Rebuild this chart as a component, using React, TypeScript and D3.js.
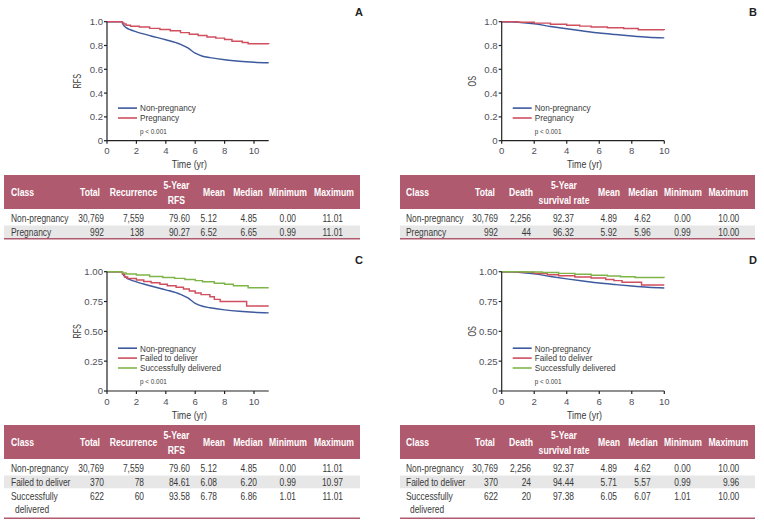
import React from "react";
import * as d3 from "d3";

const FONT = "'Liberation Sans', Arial, sans-serif";

// ---------- data ----------
const timeTicks = [0, 2, 4, 6, 8, 10];
const tenthTicks = [0, 0.2, 0.4, 0.6, 0.8, 1.0];
const tenthTickLabels = ["0", "0.2", "0.4", "0.6", "0.8", "1.0"];
const quarterTicks = [0, 0.25, 0.5, 0.75, 1.0];
const quarterTickLabels = ["0", "0.25", "0.50", "0.75", "1.00"];

const rfsNonPregnancy: [number, number][] = [
  [0, 1], [1.0, 1], [1.1, 0.975], [1.3, 0.95], [1.6, 0.932], [2, 0.915], [3, 0.88], [4, 0.848],
  [5, 0.81], [5.5, 0.78], [6, 0.735], [6.5, 0.71], [7, 0.698], [8, 0.68], [9, 0.668], [10, 0.66], [11, 0.655],
];
const rfsPregnancy: [number, number][] = [
  [0, 1], [1.05, 0.99], [1.15, 0.98], [1.3, 0.97], [1.6, 0.962], [2.2, 0.955], [2.9, 0.944], [3.6, 0.935],
  [4.3, 0.924], [5.0, 0.908], [5.6, 0.895], [6.2, 0.884], [6.8, 0.872], [7.4, 0.862], [8.0, 0.85],
  [8.5, 0.835], [9.2, 0.826], [9.6, 0.814], [11, 0.813],
];
const rfsFailed: [number, number][] = [
  [0, 1], [1.05, 0.98], [1.2, 0.955], [1.4, 0.943], [2, 0.93], [2.5, 0.918], [3, 0.908], [3.6, 0.895],
  [4.1, 0.882], [4.7, 0.87], [5.2, 0.855], [5.6, 0.838], [6, 0.822], [6.4, 0.808], [7, 0.79], [7.3, 0.768],
  [7.7, 0.75], [9.5, 0.712], [11, 0.712],
];
const rfsSuccess: [number, number][] = [
  [0, 1], [1.05, 0.99], [1.3, 0.98], [2, 0.972], [2.9, 0.96], [3.8, 0.952], [4.6, 0.944], [5.3, 0.934],
  [6, 0.925], [6.5, 0.915], [7.3, 0.903], [8, 0.895], [8.6, 0.882], [9.6, 0.866], [11, 0.866],
];
const osNonPregnancy: [number, number][] = [
  [0, 1], [1, 0.995], [2, 0.982], [3, 0.96], [4, 0.94], [5, 0.922], [6, 0.905], [7, 0.892], [8, 0.88], [9, 0.87], [10, 0.864],
];
const osPregnancy: [number, number][] = [
  [0, 1], [1, 0.996], [2, 0.988], [3, 0.978], [4, 0.97], [4.8, 0.963], [5.5, 0.955], [6.5, 0.95],
  [7.5, 0.943], [8.4, 0.933], [10, 0.93],
];
const osFailed: [number, number][] = [
  [0, 1], [1.2, 0.996], [2, 0.985], [2.8, 0.975], [3.5, 0.966], [4.5, 0.955], [5.5, 0.948], [6.4, 0.935],
  [6.9, 0.925], [7.4, 0.911], [8.6, 0.889], [10, 0.889],
];
const osSuccess: [number, number][] = [
  [0, 1], [1.5, 0.998], [2.5, 0.994], [3.5, 0.986], [4.5, 0.978], [5.5, 0.97], [6.5, 0.964], [7.3, 0.958],
  [8.2, 0.952], [10, 0.951],
];

const legendTwo = ["Non-pregnancy", "Pregnancy"];
const legendThree = ["Non-pregnancy", "Failed to deliver", "Successfully delivered"];

const rfsHeaders: (string | string[])[] = ["Class", "Total", "Recurrence", ["5-Year", "RFS"], "Mean", "Median", "Minimum", "Maximum"];
const osHeaders: (string | string[])[] = ["Class", "Total", "Death", ["5-Year", "survival rate"], "Mean", "Median", "Minimum", "Maximum"];

const classesTwo: string[][] = [["Non-pregnancy"], ["Pregnancy"]];
const classesThree: string[][] = [["Non-pregnancy"], ["Failed to deliver"], ["Successfully", "delivered"]];

const tableARows = [
  ["30,769", "7,559", "79.60", "5.12", "4.85", "0.00", "11.01"],
  ["992", "138", "90.27", "6.52", "6.65", "0.99", "11.01"],
];
const tableBRows = [
  ["30,769", "2,256", "92.37", "4.89", "4.62", "0.00", "10.00"],
  ["992", "44", "96.32", "5.92", "5.96", "0.99", "10.00"],
];
const tableCRows = [
  ["30,769", "7,559", "79.60", "5.12", "4.85", "0.00", "11.01"],
  ["370", "78", "84.61", "6.08", "6.20", "0.99", "10.97"],
  ["622", "60", "93.58", "6.78", "6.86", "1.01", "11.01"],
];
const tableDRows = [
  ["30,769", "2,256", "92.37", "4.89", "4.62", "0.00", "10.00"],
  ["370", "24", "94.44", "5.71", "5.57", "0.99", "9.96"],
  ["622", "20", "97.38", "6.05", "6.07", "1.01", "10.00"],
];

// ---------- styles ----------
const BLUE = "#3d5a9e";
const RED = "#cf4f5f";
const GREEN = "#7fb548";
const HEADER = "#af5a6e";
const GREY_ROW = "#e7e7e7";
const TEXT = "#3a3a3a";
const TICK = "#50505c";

function Txt(props: {
  x: number; y: number; size: number; sx?: number; anchor?: "start" | "middle" | "end";
  weight?: string; fill?: string; rotate?: number; children: React.ReactNode;
}) {
  const { x, y, size, sx = 1, anchor = "start", weight = "normal", fill = TEXT, rotate = 0, children } = props;
  return (
    <text transform={`translate(${x},${y}) rotate(${rotate}) scale(${sx},1)`} textAnchor={anchor}
      fontSize={size} fontWeight={weight} fill={fill} fontFamily={FONT}>{children}</text>
  );
}

type Series = { data: [number, number][]; color: string; step: boolean };

function KMPanel(props: {
  left: number; right: number; top: number; bottom: number; xMax: number;
  yTicks: number[]; yTickLabels: string[]; yTitle: string; letter: string; letterX: number; letterY: number;
  series: Series[]; legend: string[];
}) {
  const { left, right, top, bottom, xMax, yTicks, yTickLabels, yTitle, letter, letterX, letterY, series, legend } = props;
  const x = d3.scaleLinear().domain([0, xMax]).range([left, right]);
  const y = d3.scaleLinear().domain([0, 1]).range([bottom, top]);
  const legendX = left + 11;
  const legendBottom = top + 96.3;
  const n = legend.length;
  return (
    <g>
      {series.map((s, i) => {
        const line = d3.line<[number, number]>().x(d => x(d[0])).y(d => y(d[1]))
          .curve(s.step ? d3.curveStepAfter : d3.curveMonotoneX);
        return <path key={i} d={line(s.data) || ""} fill="none" stroke={s.color} strokeWidth={1.45} />;
      })}
      <line x1={left} x2={left} y1={top} y2={bottom} stroke="#222" strokeWidth={1.2} />
      <line x1={left} x2={right} y1={bottom} y2={bottom} stroke="#222" strokeWidth={1.2} />
      {yTicks.map((t, i) => (
        <g key={i}>
          <line x1={left - 3} x2={left} y1={y(t)} y2={y(t)} stroke="#222" strokeWidth={1.2} />
          <Txt x={left - 4} y={y(t) + 3.4} size={9.6} anchor="end" fill={TICK}>{yTickLabels[i]}</Txt>
        </g>
      ))}
      {timeTicks.map((t, i) => (
        <g key={i}>
          <line x1={x(t)} x2={x(t)} y1={bottom} y2={bottom + 3} stroke="#222" strokeWidth={1.2} />
          <Txt x={x(t)} y={bottom + 13.6} size={9.6} anchor="middle" fill={TICK}>{String(t)}</Txt>
        </g>
      ))}
      <Txt x={(left + right) / 2 + 1.5} y={bottom + 27.5} size={10.2} sx={0.87} anchor="middle">Time (yr)</Txt>
      <Txt x={left - 26} y={(top + bottom) / 2} size={10} sx={0.72} anchor="middle" rotate={-90}>{yTitle}</Txt>
      <Txt x={letterX} y={letterY + 4} size={11} anchor="middle" weight="bold" fill="#222">{letter}</Txt>
      {legend.map((lab, i) => {
        const ly = legendBottom - (n - 1 - i) * 9.9;
        return (
          <g key={i}>
            <line x1={legendX} x2={legendX + 19} y1={ly} y2={ly} stroke={series[i].color} strokeWidth={1.6} />
            <Txt x={legendX + 22} y={ly + 3.3} size={9} sx={0.91}>{lab}</Txt>
          </g>
        );
      })}
      <Txt x={legendX + 22} y={top + 112.3} size={7.5} sx={0.85}>p &lt; 0.001</Txt>
    </g>
  );
}

type Col = { hAnchor: "start" | "middle" | "end"; hx: number; vx: number };

function StatTable(props: {
  left: number; top: number; width: number; headers: (string | string[])[]; cols: Col[];
  classes: string[][]; rows: string[][];
}) {
  const { left, top, width, headers, cols, classes, rows } = props;
  const headerH = 34;
  const fs = 10.8;
  const sx = 0.78;
  const rowYs: number[] = [];
  const rowHs: number[] = [];
  let yy = top + headerH;
  classes.forEach((c) => {
    const h = c.length > 1 ? 29.5 : (rowYs.length === 0 ? 16.5 : 12.8);
    rowYs.push(yy);
    rowHs.push(h);
    yy += h;
  });
  return (
    <g>
      <rect x={left} y={top} width={width} height={headerH} fill={HEADER} />
      {headers.map((h, i) => {
        const c = cols[i];
        const hx = left + c.hx;
        if (Array.isArray(h)) {
          return (
            <g key={i}>
              <Txt x={hx} y={top + 13.8} size={fs} sx={0.8} anchor={c.hAnchor} weight="bold" fill="#fff">{h[0]}</Txt>
              <Txt x={hx} y={top + 28.8} size={fs} sx={0.8} anchor={c.hAnchor} weight="bold" fill="#fff">{h[1]}</Txt>
            </g>
          );
        }
        return <Txt key={i} x={hx} y={top + 21} size={fs} sx={0.8} anchor={c.hAnchor} weight="bold" fill="#fff">{h}</Txt>;
      })}
      {classes.map((cl, r) => {
        const ry = rowYs[r];
        const cy = ry + (r === 0 ? 8.8 : r === 1 ? 6.6 : 7.7);
        return (
          <g key={r}>
            {r % 2 === 1 && <rect x={left} y={ry} width={width} height={rowHs[r]} fill={GREY_ROW} />}
            {cl.map((t, k) => (
              <Txt key={k} x={left + cols[0].vx + (k > 0 ? 4 : 0)} y={cy + 3.8 + k * 13.3} size={fs} sx={sx}>{t}</Txt>
            ))}
            {rows[r].map((v, j) => (
              <Txt key={j} x={left + cols[j + 1].vx} y={cy + 3.8} size={fs} sx={sx} anchor="end">{v}</Txt>
            ))}
          </g>
        );
      })}
      <line x1={left} x2={left + width} y1={yy + 0.5} y2={yy + 0.5} stroke={HEADER} strokeWidth={1.6} />
    </g>
  );
}

const colsRFS: Col[] = [
  { hAnchor: "start", hx: 7, vx: 7 },
  { hAnchor: "end", hx: 96, vx: 100 },
  { hAnchor: "middle", hx: 129.5, vx: 140 },
  { hAnchor: "middle", hx: 172.5, vx: 186 },
  { hAnchor: "middle", hx: 210, vx: 213 },
  { hAnchor: "middle", hx: 244, vx: 253 },
  { hAnchor: "middle", hx: 284, vx: 292 },
  { hAnchor: "middle", hx: 330, vx: 339 },
];
const colsOS: Col[] = [
  { hAnchor: "start", hx: 6, vx: 6 },
  { hAnchor: "end", hx: 95, vx: 98 },
  { hAnchor: "middle", hx: 121, vx: 131 },
  { hAnchor: "middle", hx: 164, vx: 174 },
  { hAnchor: "middle", hx: 209, vx: 217 },
  { hAnchor: "middle", hx: 243, vx: 250.7 },
  { hAnchor: "middle", hx: 283, vx: 290.7 },
  { hAnchor: "middle", hx: 328.3, vx: 339.3 },
];

export default function App() {
  const pxA = 14.7;
  const pxB = 16.26;
  return (
    <svg width={764} height={523} style={{ position: "absolute", left: 0, top: 0, background: "#fff" }}>
      <KMPanel left={107} right={107 + pxA * 11} top={21.7} bottom={140.7} xMax={11}
        yTicks={tenthTicks} yTickLabels={tenthTickLabels} yTitle="RFS" letter="A" letterX={359} letterY={12}
        series={[{ data: rfsNonPregnancy, color: BLUE, step: false }, { data: rfsPregnancy, color: RED, step: true }]}
        legend={legendTwo} />
      <KMPanel left={501.7} right={501.7 + pxB * 10} top={21.7} bottom={140.7} xMax={10}
        yTicks={tenthTicks} yTickLabels={tenthTickLabels} yTitle="OS" letter="B" letterX={753} letterY={12}
        series={[{ data: osNonPregnancy, color: BLUE, step: false }, { data: osPregnancy, color: RED, step: true }]}
        legend={legendTwo} />
      <KMPanel left={107} right={107 + pxA * 11} top={271.7} bottom={391} xMax={11}
        yTicks={quarterTicks} yTickLabels={quarterTickLabels} yTitle="RFS" letter="C" letterX={359} letterY={260}
        series={[{ data: rfsNonPregnancy, color: BLUE, step: false }, { data: rfsFailed, color: RED, step: true }, { data: rfsSuccess, color: GREEN, step: true }]}
        legend={legendThree} />
      <KMPanel left={501.7} right={501.7 + pxB * 10} top={271.7} bottom={391} xMax={10}
        yTicks={quarterTicks} yTickLabels={quarterTickLabels} yTitle="OS" letter="D" letterX={753} letterY={260}
        series={[{ data: osNonPregnancy, color: BLUE, step: false }, { data: osFailed, color: RED, step: true }, { data: osSuccess, color: GREEN, step: true }]}
        legend={legendThree} />
      <StatTable left={4} top={175} width={356} headers={rfsHeaders} cols={colsRFS} classes={classesTwo} rows={tableARows} />
      <StatTable left={400} top={175} width={355} headers={osHeaders} cols={colsOS} classes={classesTwo} rows={tableBRows} />
      <StatTable left={4} top={425} width={356} headers={rfsHeaders} cols={colsRFS} classes={classesThree} rows={tableCRows} />
      <StatTable left={400} top={425} width={355} headers={osHeaders} cols={colsOS} classes={classesThree} rows={tableDRows} />
    </svg>
  );
}
